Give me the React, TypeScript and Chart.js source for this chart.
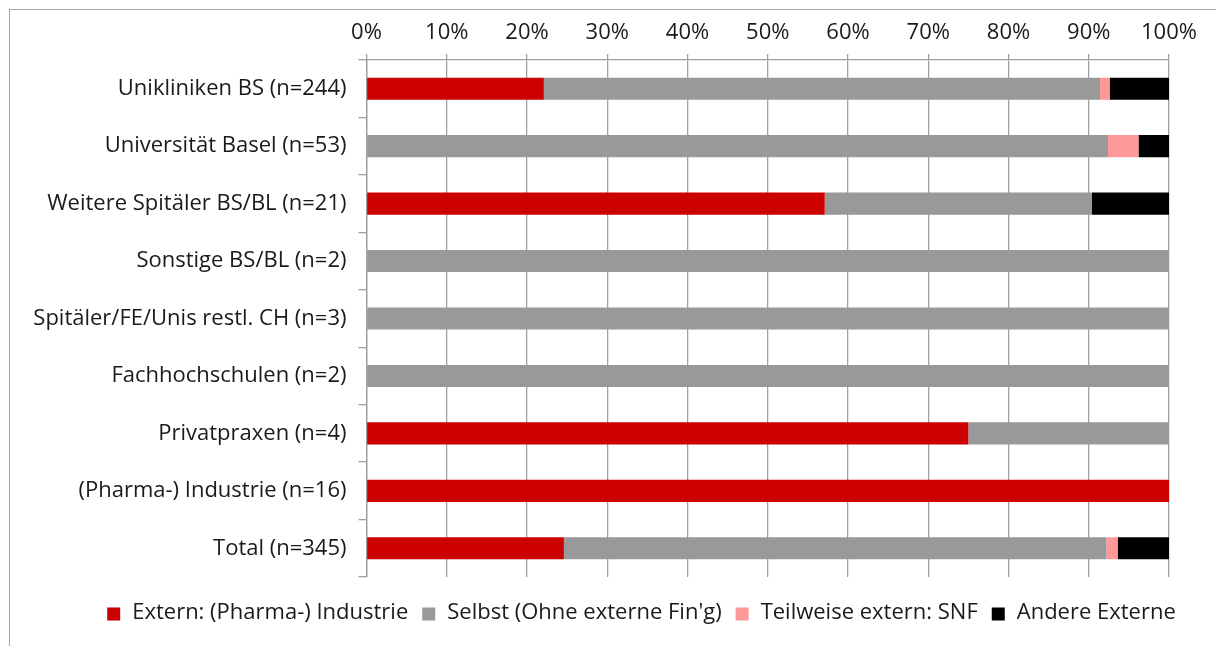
import React, { useEffect, useRef } from "react";
import { Chart, registerables } from "chart.js";

Chart.register(...registerables);

// Institution groups (rows, top to bottom)
const categories = [
  "Unikliniken BS (n=244)",
  "Universität Basel (n=53)",
  "Weitere Spitäler BS/BL (n=21)",
  "Sonstige BS/BL (n=2)",
  "Spitäler/FE/Unis restl. CH (n=3)",
  "Fachhochschulen (n=2)",
  "Privatpraxen (n=4)",
  "(Pharma-) Industrie (n=16)",
  "Total (n=345)",
];

// Share of studies by funding source, in percent
const externIndustrie = [22.1, 0, 57.1, 0, 0, 0, 75, 100, 24.6];
const selbst = [69.3, 92.4, 33.3, 100, 100, 100, 25, 0, 67.6];
const teilweiseSnf = [1.2, 3.8, 0, 0, 0, 0, 0, 0, 1.4];
const andereExterne = [7.4, 3.8, 9.6, 0, 0, 0, 0, 0, 6.4];

const seriesLabels = [
  "Extern: (Pharma-) Industrie",
  "Selbst (Ohne externe Fin'g)",
  "Teilweise extern: SNF",
  "Andere Externe",
];

const seriesColors = ["#cc0000", "#999999", "#ff9999", "#000000"];

const xTicks = [0, 10, 20, 30, 40, 50, 60, 70, 80, 90, 100];

const FONT = "'Open Sans', 'Noto Sans', sans-serif";
const FONT_SIZE = 22;
const TEXT = "#1a1a1a";
const GRID = "#a0a0a0";

// Legend row drawn below the plot: square swatch, then label, items centred as a group
const bottomLegend = {
  id: "bottomLegend",
  afterDraw(chart: any) {
    const ctx = chart.ctx as CanvasRenderingContext2D;
    const box = 13;
    const boxGap = 12;
    const itemGap = 14;
    const centerX = 641.5;
    const centerY = 614;
    ctx.save();
    ctx.font = `${FONT_SIZE}px ${FONT}`;
    const items = chart.data.datasets.map((ds: any) => ({
      text: ds.label as string,
      color: ds.backgroundColor as string,
      w: ctx.measureText(ds.label).width,
    }));
    const total =
      items.reduce((s: number, it: any) => s + box + boxGap + it.w, 0) + itemGap * (items.length - 1);
    let x = centerX - total / 2;
    ctx.textBaseline = "middle";
    ctx.textAlign = "left";
    for (const it of items) {
      ctx.fillStyle = it.color;
      ctx.fillRect(x, centerY - box / 2, box, box);
      x += box + boxGap;
      ctx.fillStyle = TEXT;
      ctx.fillText(it.text, x, centerY - 1);
      x += it.w + itemGap;
    }
    ctx.restore();
  },
};

export default function App() {
  const canvasRef = useRef<HTMLCanvasElement | null>(null);

  useEffect(() => {
    if (!canvasRef.current) return;
    const chart = new Chart(canvasRef.current, {
      type: "bar",
      data: {
        labels: categories,
        datasets: [
          { label: seriesLabels[0], data: externIndustrie, backgroundColor: seriesColors[0] },
          { label: seriesLabels[1], data: selbst, backgroundColor: seriesColors[1] },
          { label: seriesLabels[2], data: teilweiseSnf, backgroundColor: seriesColors[2] },
          { label: seriesLabels[3], data: andereExterne, backgroundColor: seriesColors[3] },
        ],
      },
      plugins: [bottomLegend],
      options: {
        indexAxis: "y",
        animation: false,
        responsive: false,
        maintainAspectRatio: false,
        layout: { padding: { left: 12, right: 47, top: 0, bottom: 69 } },
        datasets: {
          bar: { barPercentage: 0.385, categoryPercentage: 1, borderWidth: 0 },
        },
        scales: {
          x: {
            position: "top",
            stacked: true,
            min: 0,
            max: 100,
            afterBuildTicks: (scale: any) => {
              scale.ticks = xTicks.map((v) => ({ value: v }));
            },
            afterFit: (scale: any) => {
              scale.height = 60;
            },
            ticks: {
              callback: (v: any) => `${v}%`,
              color: TEXT,
              font: { family: FONT, size: FONT_SIZE },
              padding: 8,
              maxRotation: 0,
            },
            grid: {
              color: GRID,
              lineWidth: 1.3,
              tickLength: 6,
              drawTicks: true,
            },
            border: { display: true, color: GRID, width: 1.3 },
          },
          y: {
            stacked: true,
            afterFit: (scale: any) => {
              scale.width = 366.5 - 12;
            },
            ticks: {
              color: TEXT,
              font: { family: FONT, size: FONT_SIZE },
              padding: 12,
            },
            grid: {
              color: GRID,
              lineWidth: 1.3,
              drawOnChartArea: false,
              drawTicks: true,
              tickLength: 8,
              offset: true,
            },
            border: { display: true, color: GRID, width: 1.3 },
          },
        },
        plugins: {
          tooltip: { enabled: false },
          legend: { display: false },
        },
      },
    });
    return () => chart.destroy();
  }, []);

  return (
    <div style={{ position: "fixed", left: 0, top: 0, width: 1216, height: 646, background: "#fff", overflow: "hidden" }}>
      <div
        style={{
          position: "absolute",
          left: 9,
          top: 9,
          width: 1240,
          height: 680,
          borderLeft: "1px solid #a6a6a6",
          borderTop: "1px solid #a6a6a6",
        }}
      />
      <canvas ref={canvasRef} width={1216} height={646} style={{ position: "absolute", left: 0, top: 0 }} />
    </div>
  );
}
